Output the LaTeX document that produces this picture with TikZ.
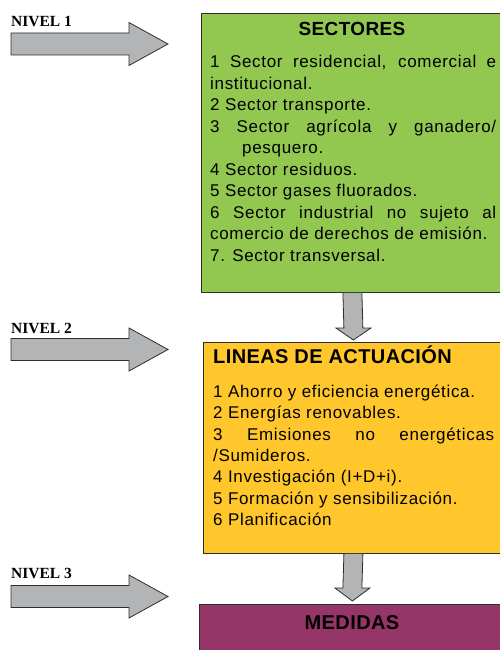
\documentclass[tikz,border=0pt]{standalone}
\usepackage{fontspec}
\setmainfont{Liberation Sans}
\newfontfamily\listfont[LetterSpace=4]{Liberation Sans}
\newfontfamily\headfont[LetterSpace=2]{Liberation Sans}
\newfontfamily\nivelfont{Liberation Serif}
\usetikzlibrary{calc}

\definecolor{sectgreen}{RGB}{146,200,80}
\definecolor{lingold}{RGB}{255,199,44}
\definecolor{medpurple}{RGB}{149,53,104}
\definecolor{arrowgray}{RGB}{178,180,181}
\definecolor{edgegray}{RGB}{45,45,45}

\tikzset{
	levelbox/.style={draw=edgegray, line width=0.8pt, inner sep=0pt, anchor=north west},
	boxtitle/.style={inner sep=0pt, font=\headfont\bfseries\fontsize{19}{22}\selectfont},
	boxlist/.style={inner sep=0pt, anchor=base west, align=justify, font=\listfont\fontsize{17}{21.5}\selectfont},
	nivel/.style={inner sep=0pt, anchor=base west, font=\nivelfont\bfseries\fontsize{15.5}{17}\selectfont},
	blockarrow/.style={fill=arrowgray, draw=edgegray, line width=0.8pt, line join=miter},
}

\begin{document}
\begin{tikzpicture}[x=1pt,y=-1pt]
		\useasboundingbox (0,0) rectangle (499,650);
		
		% boxes
		\node (sect) [levelbox, fill=sectgreen, minimum width=302pt, minimum height=279pt] at (201,13) {};
		\node (lin) [levelbox, fill=lingold, minimum width=300pt, minimum height=211pt] at (203,342) {};
		\node (med) [levelbox, fill=medpurple, minimum width=306pt, minimum height=80pt] at (199,604) {};
		
		% titles
		\node (secttitle) [boxtitle, anchor=base] at (352,36) {SECTORES};
		\node (lintitle) [boxtitle, anchor=base west, font=\headfont\bfseries\fontsize{20}{22}\selectfont] at (213,363) {LINEAS DE ACTUACIÓN};
		\node (medtitle) [boxtitle, anchor=base, font=\headfont\bfseries\fontsize{20}{22}\selectfont] at (352,629) {MEDIDAS};
		
		% lists
		\node (sectlist) [boxlist, text width=286pt] at (210,68) {1 Sector residencial, comercial e\linebreak institucional.\\
			2 Sector transporte.\\
			3 Sector agrícola y ganadero/\linebreak\hspace*{32pt}pesquero.\\
			4 Sector residuos.\\
			5 Sector gases fluorados.\\
			6 Sector industrial no sujeto al\linebreak comercio de derechos de emisión.\\
			7. Sector transversal.};
		\node (linlist) [boxlist, text width=281pt, font=\listfont\fontsize{17}{21.3}\selectfont] at (213,397.5) {1 Ahorro y eficiencia energética.\\
			2 Energías renovables.\\
			3 Emisiones no energéticas\linebreak /Sumideros.\\
			4 Investigación (I+D+i).\\
			5 Formación y sensibilización.\\
			6 Planificación};
		
		% levels
		\foreach \yy/\nn/\lab in {44/1/27, 349.5/2/333, 596.5/3/578}{
			\node (nivel\nn) [nivel] at (11,\lab) {NIVEL \nn};
			\draw [blockarrow] (11,\yy-11) -- (129,\yy-11) -- (129,\yy-21.5) -- (168,\yy) -- (129,\yy+21.5) -- (129,\yy+11) -- (11,\yy+11) -- cycle;
		}
		
		% arrows between boxes
		\draw [blockarrow] ($(sect.south)+(-9.5,0)$) -- ($(lin.north)+(-9.5,-14)$) -- ($(lin.north)+(-17.5,-14)$) -- ($(lin.north)+(0,-2)$) -- ($(lin.north)+(17.5,-14)$) -- ($(lin.north)+(9.5,-14)$) -- ($(sect.south)+(9.5,0)$);
		\draw [blockarrow] ($(lin.south)+(-9.5,0)$) -- ($(med.north)+(-9.5,-16)$) -- ($(med.north)+(-17.5,-16)$) -- ($(med.north)+(0,-3)$) -- ($(med.north)+(17.5,-16)$) -- ($(med.north)+(9.5,-16)$) -- ($(lin.south)+(9.5,0)$);
		
\end{tikzpicture}
\end{document}
